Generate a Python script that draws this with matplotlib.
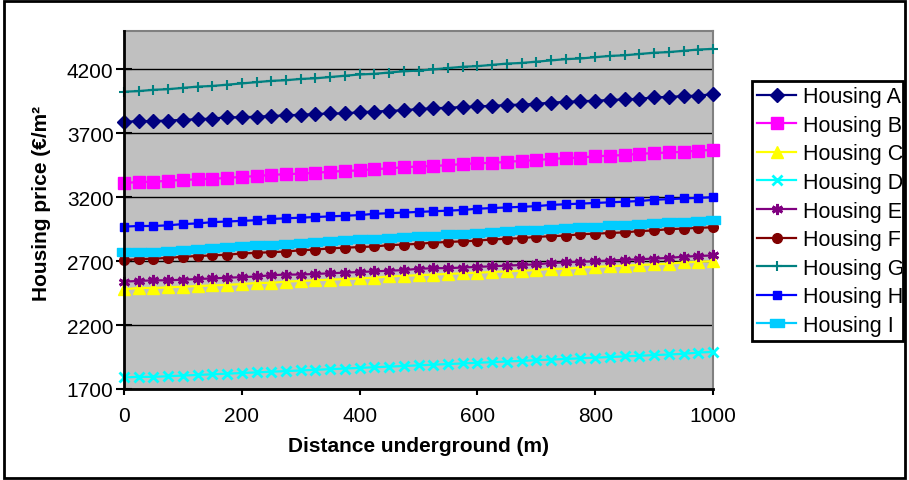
import matplotlib
matplotlib.use("Agg")
import matplotlib.pyplot as plt
from matplotlib.patches import Rectangle
from matplotlib.transforms import Bbox, TransformedBbox

plt.rcParams["font.family"] = ["Liberation Sans", "DejaVu Sans"]

# distance underground (m), one point every 25 m
distance = [0, 25, 50, 75, 100, 125, 150, 175, 200, 225,
            250, 275, 300, 325, 350, 375, 400, 425, 450, 475,
            500, 525, 550, 575, 600, 625, 650, 675, 700, 725,
            750, 775, 800, 825, 850, 875, 900, 925, 950, 975,
            1000]

housing_a = [3790, 3795, 3795, 3800, 3805, 3810, 3815, 3825, 3825, 3830,
             3835, 3840, 3845, 3850, 3855, 3855, 3865, 3870, 3875, 3880,
             3890, 3895, 3900, 3905, 3910, 3915, 3920, 3925, 3930, 3940,
             3945, 3950, 3955, 3960, 3965, 3970, 3980, 3985, 3990, 3995,
             4005]
housing_b = [3310, 3320, 3320, 3330, 3335, 3340, 3345, 3350, 3360, 3365,
             3375, 3380, 3385, 3390, 3400, 3405, 3410, 3420, 3425, 3435,
             3440, 3445, 3450, 3460, 3465, 3470, 3475, 3485, 3490, 3500,
             3505, 3510, 3520, 3525, 3530, 3540, 3545, 3550, 3555, 3565,
             3570]
housing_c = [2480, 2490, 2490, 2495, 2500, 2505, 2510, 2515, 2520, 2530,
             2530, 2540, 2545, 2550, 2555, 2560, 2565, 2570, 2580, 2585,
             2590, 2595, 2600, 2605, 2610, 2615, 2620, 2625, 2630, 2640,
             2640, 2650, 2655, 2660, 2665, 2670, 2675, 2680, 2690, 2695,
             2700]
housing_d = [1790, 1795, 1795, 1800, 1805, 1810, 1815, 1820, 1825, 1830,
             1835, 1840, 1845, 1850, 1855, 1860, 1865, 1870, 1875, 1880,
             1885, 1890, 1895, 1900, 1905, 1910, 1915, 1920, 1925, 1930,
             1935, 1940, 1945, 1950, 1955, 1960, 1965, 1970, 1975, 1985,
             1990]
housing_e = [2540, 2545, 2550, 2550, 2555, 2560, 2565, 2570, 2575, 2580,
             2590, 2595, 2595, 2600, 2605, 2610, 2615, 2620, 2625, 2630,
             2640, 2645, 2645, 2650, 2655, 2660, 2665, 2670, 2675, 2685,
             2690, 2695, 2700, 2705, 2710, 2715, 2720, 2725, 2735, 2740,
             2745]
housing_f = [2710, 2715, 2720, 2725, 2735, 2740, 2745, 2750, 2760, 2765,
             2770, 2775, 2785, 2790, 2800, 2805, 2810, 2815, 2825, 2830,
             2835, 2845, 2850, 2855, 2860, 2870, 2875, 2880, 2890, 2895,
             2900, 2910, 2915, 2920, 2925, 2935, 2940, 2950, 2955, 2960,
             2965]
housing_g = [4025, 4030, 4040, 4045, 4055, 4065, 4070, 4080, 4090, 4100,
             4110, 4115, 4125, 4130, 4140, 4150, 4160, 4165, 4175, 4185,
             4190, 4200, 4210, 4220, 4225, 4235, 4245, 4250, 4260, 4270,
             4280, 4285, 4295, 4305, 4310, 4320, 4330, 4335, 4345, 4355,
             4360]
housing_h = [2970, 2975, 2975, 2980, 2990, 2995, 3005, 3010, 3015, 3020,
             3030, 3035, 3040, 3045, 3050, 3055, 3060, 3070, 3075, 3080,
             3085, 3090, 3095, 3100, 3110, 3115, 3120, 3125, 3130, 3140,
             3145, 3150, 3155, 3160, 3165, 3170, 3180, 3185, 3190, 3195,
             3200]
housing_i = [2770, 2770, 2775, 2780, 2790, 2795, 2800, 2810, 2815, 2825,
             2830, 2835, 2840, 2850, 2855, 2865, 2870, 2875, 2880, 2890,
             2895, 2900, 2910, 2915, 2920, 2925, 2935, 2940, 2945, 2955,
             2960, 2965, 2970, 2980, 2985, 2990, 2995, 3005, 3010, 3015,
             3020]

labels = ["Housing A", "Housing B", "Housing C", "Housing D", "Housing E",
          "Housing F", "Housing G", "Housing H", "Housing I"]
y_ticks = [1700, 2200, 2700, 3200, 3700, 4200]
x_ticks = [0, 200, 400, 600, 800, 1000]

series = [housing_a, housing_b, housing_c, housing_d, housing_e,
          housing_f, housing_g, housing_h, housing_i]

wide_rect = [(-1, -0.55), (1, -0.55), (1, 0.55), (-1, 0.55), (-1, -0.55)]
styles = [
    dict(color="#000080", marker="D", ms=7),
    dict(color="#FF00FF", marker="s", ms=8.5),
    dict(color="#FFFF00", marker="^", ms=8.5),
    dict(color="#00FFFF", marker="x", ms=6.5, mew=2),
    dict(color="#800080", marker=(6, 2, 0), ms=8, mew=2),
    dict(color="#800000", marker="o", ms=7),
    dict(color="#008080", marker="+", ms=7, mew=1.5),
    dict(color="#0000FF", marker="s", ms=5.5),
    dict(color="#00CCFF", marker=wide_rect, ms=9.5),
]

W, H = 909, 481
fig = plt.figure(figsize=(W / 100, H / 100), dpi=100)
fig.patch.set_facecolor("white")

# axes placed in pixel terms
x0, x1, y_top, y_bot = 124, 713, 32, 390
ax = fig.add_axes([x0 / W, (H - y_bot) / H, (x1 - x0) / W, (y_bot - y_top) / H])
ax.set_facecolor("#C0C0C0")

for vals, lab, st in zip(series, labels, styles):
    ax.plot(distance, vals, label=lab, lw=1.6, color=st["color"],
            marker=st["marker"], ms=st["ms"], mew=st.get("mew", 1),
            mfc=st["color"], mec=st["color"], clip_on=False, zorder=3)

ax.set_xlim(0, 1000)
ax.set_ylim(1700, 4500)
ax.set_xticks(x_ticks)
ax.set_yticks(y_ticks)
ax.yaxis.grid(True, color="black", lw=1)
ax.set_axisbelow(True)

ax.tick_params(axis="y", direction="inout", length=11, width=1.5,
               labelsize=15, pad=2)
ax.tick_params(axis="x", direction="out", length=4, width=1.5,
               labelsize=15, pad=8)
for side in ("top", "right"):
    ax.spines[side].set_color("#808080")
    ax.spines[side].set_linewidth(1.5)
for side in ("left", "bottom"):
    ax.spines[side].set_color("black")
    ax.spines[side].set_linewidth(2)
    ax.spines[side].set_zorder(4)

ax.set_xlabel("Distance underground (m)", fontsize=15, fontweight="bold",
              labelpad=8)
fig.text(42 / W, 1 - 203 / H, "Housing price (€/m²", rotation=90,
         ha="center", va="center", fontsize=15, fontweight="bold")

# legend box: fixed width, text clipped at the frame like the original
lx0, lx1, ly0, ly1 = 752, 903, 82, 342
leg = fig.legend(loc="upper left",
                 bbox_to_anchor=(lx0 / W, 1 - ly1 / H, (lx1 - lx0) / W,
                                 (ly1 - ly0) / H),
                 mode="expand", fontsize=15.5, frameon=True, fancybox=False,
                 edgecolor="black", framealpha=1, handlelength=1.8,
                 handletextpad=0.3, labelspacing=0.35, borderpad=0.25,
                 borderaxespad=0)
leg.get_frame().set_linewidth(2)
for t in leg.get_texts():
    t.set_clip_box(TransformedBbox(Bbox([[lx0 / W, 0], [(lx1 - 1) / W, 1]]),
                                   fig.transFigure))
    t.set_clip_on(True)

# outer chart border
fig.patches.append(Rectangle((4 / W, 2 / H), 901 / W, 477 / H,
                             transform=fig.transFigure, fill=False,
                             edgecolor="black", lw=2))

fig.savefig("out.png", dpi=100, facecolor="white")
